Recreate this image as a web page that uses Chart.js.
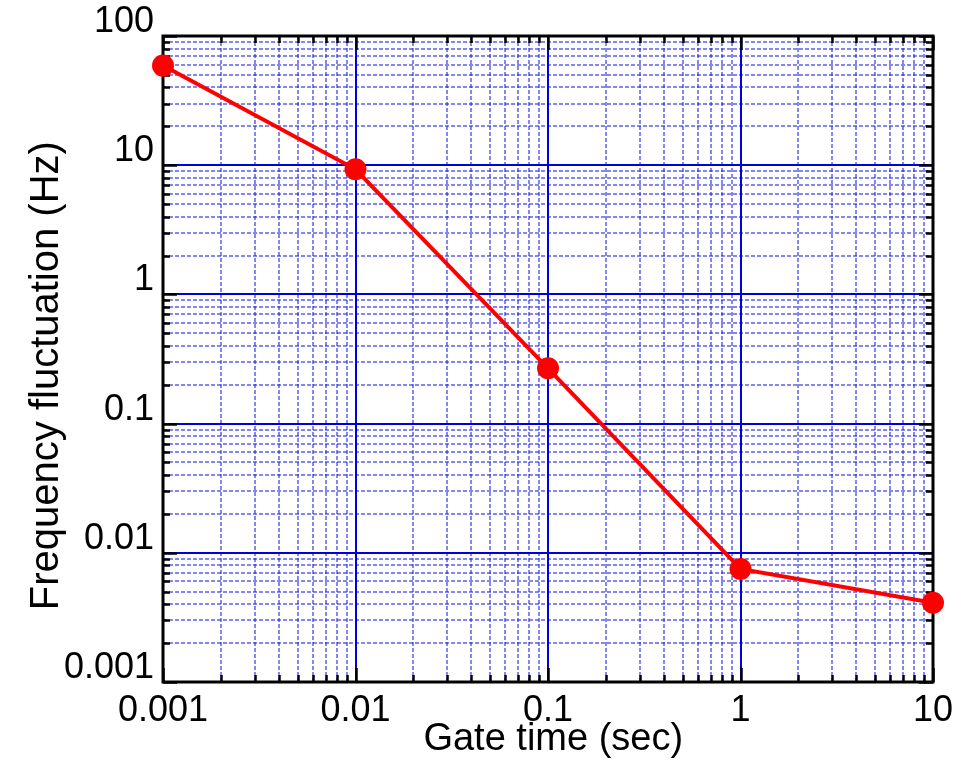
<!DOCTYPE html>
<html>
<head>
<meta charset="utf-8">
<title>Frequency fluctuation vs gate time</title>
<script src="https://cdn.jsdelivr.net/npm/chart.js@4.4.1/dist/chart.umd.min.js"></script>
<style>
  html, body { margin: 0; padding: 0; background: #fff; }
  canvas { display: block; }
</style>
</head>
<body>
<canvas id="chart" width="980" height="766"></canvas>
<script>
// measured points
const gateTimes = [0.001, 0.01, 0.1, 1, 10];
const fluctuations = [59, 9.3, 0.268, 0.0075, 0.0041];

// decade ticks and their labels
const xDecades = [0.001, 0.01, 0.1, 1, 10];
const xTickLabels = ['0.001', '0.01', '0.1', '1', '10'];
const yDecades = [0.001, 0.01, 0.1, 1, 10, 100];
const yTickLabels = ['0.001', '0.01', '0.1', '1', '10', '100'];

const FONT = "'Liberation Sans', Arial, Helvetica, sans-serif";
const MAJOR_BLUE = '#0000dc';
const MINOR_BLUE = 'rgba(35, 35, 230, 0.55)';

// 2..9 inside every decade
function minorsOf(decades) {
  const out = [];
  for (let i = 0; i < decades.length - 1; i++) {
    for (let k = 2; k <= 9; k++) out.push(+(decades[i] * k).toPrecision(3));
  }
  return out;
}
const xMinors = minorsOf(xDecades);
const yMinors = minorsOf(yDecades);

// black frame with inward tick marks on all four sides
const frameTicks = {
  id: 'frameTicks',
  beforeDatasetsDraw(chart) {
    const { ctx, chartArea: a, scales } = chart;
    const mark = (vals, len, scale, horiz) => {
      vals.forEach(v => {
        const p = Math.round(scale.getPixelForValue(v)) + 0.5;
        if (horiz) {
          ctx.moveTo(p, a.bottom); ctx.lineTo(p, a.bottom - len);
          ctx.moveTo(p, a.top); ctx.lineTo(p, a.top + len);
        } else {
          ctx.moveTo(a.left, p); ctx.lineTo(a.left + len, p);
          ctx.moveTo(a.right, p); ctx.lineTo(a.right - len, p);
        }
      });
    };
    ctx.save();
    ctx.strokeStyle = '#000';
    ctx.lineWidth = 2.5;
    ctx.beginPath();
    mark(xMinors, 7, scales.x, true);
    mark(yMinors, 7, scales.y, false);
    mark(xDecades, 14, scales.x, true);
    mark(yDecades, 14, scales.y, false);
    ctx.stroke();
    ctx.lineWidth = 3;
    ctx.strokeRect(a.left, a.top, a.right - a.left, a.bottom - a.top);
    ctx.restore();
  }
};

new Chart(document.getElementById('chart'), {
  type: 'line',
  data: {
    datasets: [{
      data: gateTimes.map((t, i) => ({ x: t, y: fluctuations[i] })),
      borderColor: '#ff0000',
      borderWidth: 4,
      backgroundColor: '#ff0000',
      pointRadius: 11,
      pointBackgroundColor: '#ff0000',
      pointBorderWidth: 0,
      tension: 0,
      clip: false,
      xAxisID: 'x',
      yAxisID: 'y'
    }]
  },
  options: {
    responsive: false,
    animation: false,
    layout: { padding: { top: 36, right: 47, left: 0, bottom: 0 } },
    plugins: { legend: { display: false }, tooltip: { enabled: false } },
    scales: {
      xMinor: {
        type: 'logarithmic', position: 'bottom', min: 0.001, max: 10, z: -1,
        afterBuildTicks: s => { s.ticks = xMinors.map(v => ({ value: v })); },
        afterFit: s => { s.height = 0; },
        ticks: { display: false },
        grid: { color: MINOR_BLUE, lineWidth: 2, drawTicks: false },
        border: { display: false, dash: [4, 2] }
      },
      yMinor: {
        type: 'logarithmic', position: 'left', min: 0.001, max: 100, z: -1,
        afterBuildTicks: s => { s.ticks = yMinors.map(v => ({ value: v })); },
        afterFit: s => { s.width = 0; },
        ticks: { display: false },
        grid: { color: MINOR_BLUE, lineWidth: 2, drawTicks: false },
        border: { display: false, dash: [4, 2] }
      },
      x: {
        type: 'logarithmic', position: 'bottom', min: 0.001, max: 10,
        afterBuildTicks: s => { s.ticks = xDecades.map(v => ({ value: v })); },
        afterFit: s => { s.height = 84; },
        ticks: {
          autoSkip: false, maxRotation: 0, padding: 7, color: '#000',
          font: { family: FONT, size: 36 },
          callback: (v, i) => xTickLabels[i]
        },
        grid: { color: MAJOR_BLUE, lineWidth: 2, drawTicks: false },
        border: { display: false },
        title: {
          display: true, text: ' Gate time (sec)', color: '#000',
          font: { family: FONT, size: 38 }, padding: { top: 0, bottom: 4 }
        }
      },
      y: {
        type: 'logarithmic', position: 'left', min: 0.001, max: 100,
        afterBuildTicks: s => { s.ticks = yDecades.map(v => ({ value: v })); },
        afterFit: s => { s.width = 163; },
        ticks: {
          autoSkip: false, padding: 9, color: '#000', labelOffset: -14,
          font: { family: FONT, size: 36 },
          callback: (v, i) => yTickLabels[i]
        },
        grid: { color: MAJOR_BLUE, lineWidth: 2, drawTicks: false },
        border: { display: false },
        title: {
          display: true, text: 'Frequency fluctuation (Hz)   ', color: '#000',
          font: { family: FONT, size: 40 }, padding: { top: 23, bottom: 0 }
        }
      }
    }
  },
  plugins: [frameTicks]
});
</script>
</body>
</html>
